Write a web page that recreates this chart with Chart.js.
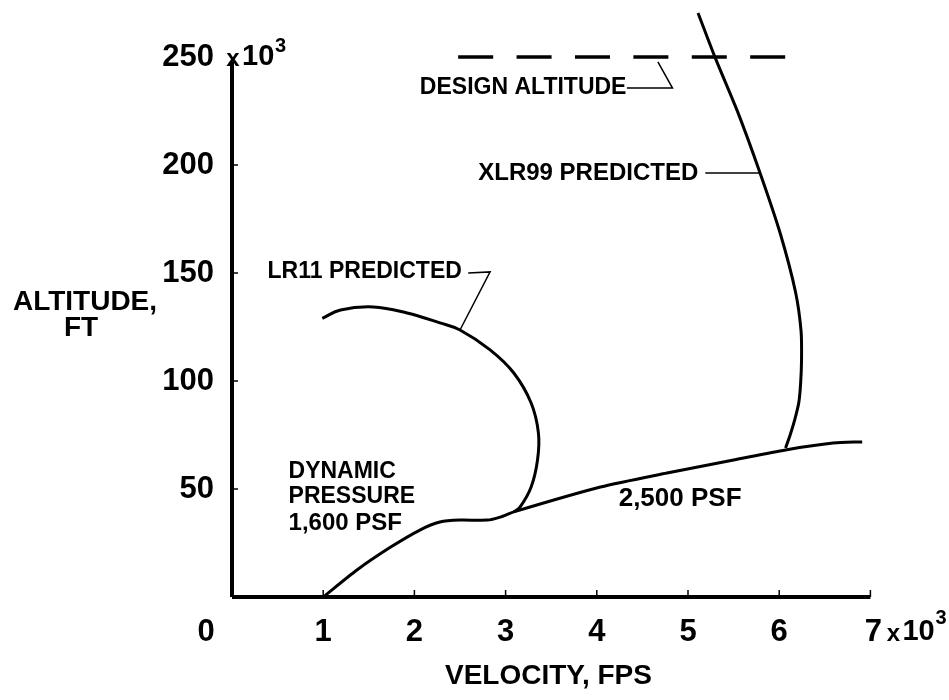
<!DOCTYPE html>
<html>
<head>
<meta charset="utf-8">
<script src="https://cdn.jsdelivr.net/npm/chart.js@4/dist/chart.umd.min.js"></script>
<style>
html,body{margin:0;padding:0;background:#fff;}
#wrap{width:949px;height:700px;position:relative;}
</style>
</head>
<body>
<div id="wrap"><canvas id="c"></canvas></div>
<script>
// ---- Data (velocity in 10^3 fps, altitude in 10^3 ft) ----
const xTickValues = [0, 1, 2, 3, 4, 5, 6, 7];
const xTickLabels = ['0', '1', '2', '3', '4', '5', '6', '7'];
const yTickValues = [50, 100, 150, 200, 250];
const yTickLabels = ['50', '100', '150', '200', '250'];

// Dynamic pressure boundary (1,600 psf -> 2,500 psf)
const dynPressureV = [1.00, 1.37, 1.74, 2.06, 2.28, 2.50, 2.80, 2.94, 3.09, 4.04, 4.77, 5.50, 6.07, 6.59, 6.91];
const dynPressureH = [0.0, 12.5, 23.1, 31.0, 34.7, 35.6, 35.6, 37.0, 39.4, 50.9, 57.4, 63.4, 68.1, 71.3, 71.8];

// LR11 predicted
const lr11V = [0.99, 1.19, 1.55, 1.92, 2.28, 2.50, 2.83, 3.09, 3.28, 3.36, 3.35, 3.28, 3.16, 3.09];
const lr11H = [129.0, 132.9, 134.3, 131.5, 126.9, 123.6, 114.4, 103.7, 89.8, 75.9, 63.4, 50.9, 41.7, 39.4];

// XLR99 predicted
const xlr99V = [5.11, 5.30, 5.55, 5.79, 6.01, 6.18, 6.24, 6.245, 6.235, 6.215, 6.17, 6.12, 6.07];
const xlr99H = [270.4, 249.5, 224.0, 196.3, 168.5, 141.0, 123.0, 110.0, 99.0, 90.0, 82.0, 75.0, 69.0];

// Design altitude
const designV = [2.48, 6.07];
const designH = [250, 250];

// Axes lines
const yAxisV = [0, 0];
const yAxisH = [0, 248];
const xAxisV = [0, 7];
const xAxisH = [0, 0];

// Leader lines
const leaderDesignV = [4.33, 4.83, 4.67];
const leaderDesignH = [235.6, 235.6, 247.7];
const leaderXlrV = [5.19, 5.79];
const leaderXlrH = [196.3, 196.3];
const leaderLr11V = [2.59, 2.83, 2.50];
const leaderLr11H = [150.0, 150.5, 123.6];

// Annotation texts (positions in data units)
const noteTexts = ['DESIGN ALTITUDE', 'XLR99 PREDICTED', 'LR11 PREDICTED', 'DYNAMIC', 'PRESSURE', '1,600 PSF', '2,500 PSF'];
const noteV = [2.06, 2.70, 0.39, 0.62, 0.62, 0.62, 4.24];
const noteH = [235.6, 196.3, 150.5, 57.9, 46.3, 34.3, 45.4];

function pts(vs, hs) { return vs.map((v, i) => ({ x: v, y: hs[i] })); }

const FONT = "'Liberation Sans', Arial, sans-serif";
const noteSizes = [23, 24, 23, 23, 23, 24, 26];

function ds(vs, hs, w, extra) {
  return Object.assign({
    data: pts(vs, hs), showLine: true, borderColor: '#000', backgroundColor: '#000',
    borderWidth: w, pointRadius: 0, tension: 0, fill: false, clip: false
  }, extra || {});
}

const labelPlugin = {
  id: 'labels',
  afterDatasetsDraw(chart) {
    const c = chart.ctx;
    const xs = chart.scales.x, ys = chart.scales.y;
    const x0 = xs.getPixelForValue(0), y0 = ys.getPixelForValue(0);
    c.save();
    c.fillStyle = '#000';
    c.strokeStyle = '#000';
    // tick marks
    c.lineWidth = 1.5;
    xTickValues.forEach(v => {
      if (v === 0) return;
      const px = xs.getPixelForValue(v);
      c.beginPath(); c.moveTo(px, y0); c.lineTo(px, y0 - 7); c.stroke();
    });
    yTickValues.forEach(h => {
      if (h === 250) return;
      const py = ys.getPixelForValue(h);
      c.beginPath(); c.moveTo(x0, py); c.lineTo(x0 + 6, py); c.stroke();
    });
    // x tick labels
    c.font = 'bold 31px ' + FONT;
    c.textBaseline = 'middle';
    xTickValues.forEach((v, i) => {
      let px = xs.getPixelForValue(v);
      if (v === 0) px -= 26;
      c.textAlign = 'center';
      c.fillText(xTickLabels[i], px + (v === 7 ? 3 : 0), y0 + 35);
      if (v === 7) {
        c.font = 'bold 24px ' + FONT;
        c.fillText('x', px + 23, y0 + 37);
        c.textAlign = 'left';
        c.font = 'bold 29px ' + FONT;
        c.fillText('10', px + 32, y0 + 35);
        c.font = 'bold 20px ' + FONT;
        c.fillText('3', px + 65, y0 + 21);
        c.font = 'bold 31px ' + FONT;
      }
    });
    // y tick labels
    yTickValues.forEach((h, i) => {
      const py = ys.getPixelForValue(h);
      c.textAlign = 'right';
      c.font = 'bold 31px ' + FONT;
      c.fillText(yTickLabels[i], x0 - 18, py);
      if (h === 250) {
        c.textAlign = 'center';
        c.font = 'bold 24px ' + FONT;
        c.fillText('x', x0 + 1, py + 2);
        c.textAlign = 'left';
        c.font = 'bold 29px ' + FONT;
        c.fillText('10', x0 + 10, py);
        c.font = 'bold 20px ' + FONT;
        c.fillText('3', x0 + 43, py - 11);
      }
    });
    // annotations
    noteTexts.forEach((t, i) => {
      c.font = 'bold ' + noteSizes[i] + 'px ' + FONT;
      c.textAlign = 'left';
      c.fillText(t, xs.getPixelForValue(noteV[i]), ys.getPixelForValue(noteH[i]));
    });
    // axis titles
    c.font = 'bold 28px ' + FONT;
    c.textAlign = 'center';
    c.fillText('ALTITUDE,', x0 - 147, ys.getPixelForValue(0) - 295);
    c.fillText('FT', x0 - 151, ys.getPixelForValue(0) - 269);
    c.fillText('VELOCITY, FPS', xs.getPixelForValue(3.47), y0 + 79);
    c.restore();
  }
};

new Chart(document.getElementById('c'), {
  type: 'scatter',
  data: {
    datasets: [
      ds(yAxisV, yAxisH, 4),
      ds(xAxisV, xAxisH, 4),
      ds(dynPressureV, dynPressureH, 3, { tension: 0.25 }),
      ds(lr11V, lr11H, 3, { tension: 0.4 }),
      ds(xlr99V, xlr99H, 3, { tension: 0.25 }),
      ds(designV, designH, 3.5, { borderDash: [35, 23.4] }),
      ds(leaderDesignV, leaderDesignH, 1.5),
      ds(leaderXlrV, leaderXlrH, 1.5),
      ds(leaderLr11V, leaderLr11H, 1.5)
    ]
  },
  options: {
    responsive: true,
    maintainAspectRatio: false,
    animation: false,
    layout: { padding: { left: 232, right: 33, top: 3, bottom: 103 } },
    scales: {
      x: { type: 'linear', min: 0, max: 7.5, display: false },
      y: { type: 'linear', min: 0, max: 275, display: false }
    },
    plugins: { legend: { display: false }, tooltip: { enabled: false } },
    elements: { point: { radius: 0 } }
  },
  plugins: [labelPlugin]
});
</script>
</body>
</html>
